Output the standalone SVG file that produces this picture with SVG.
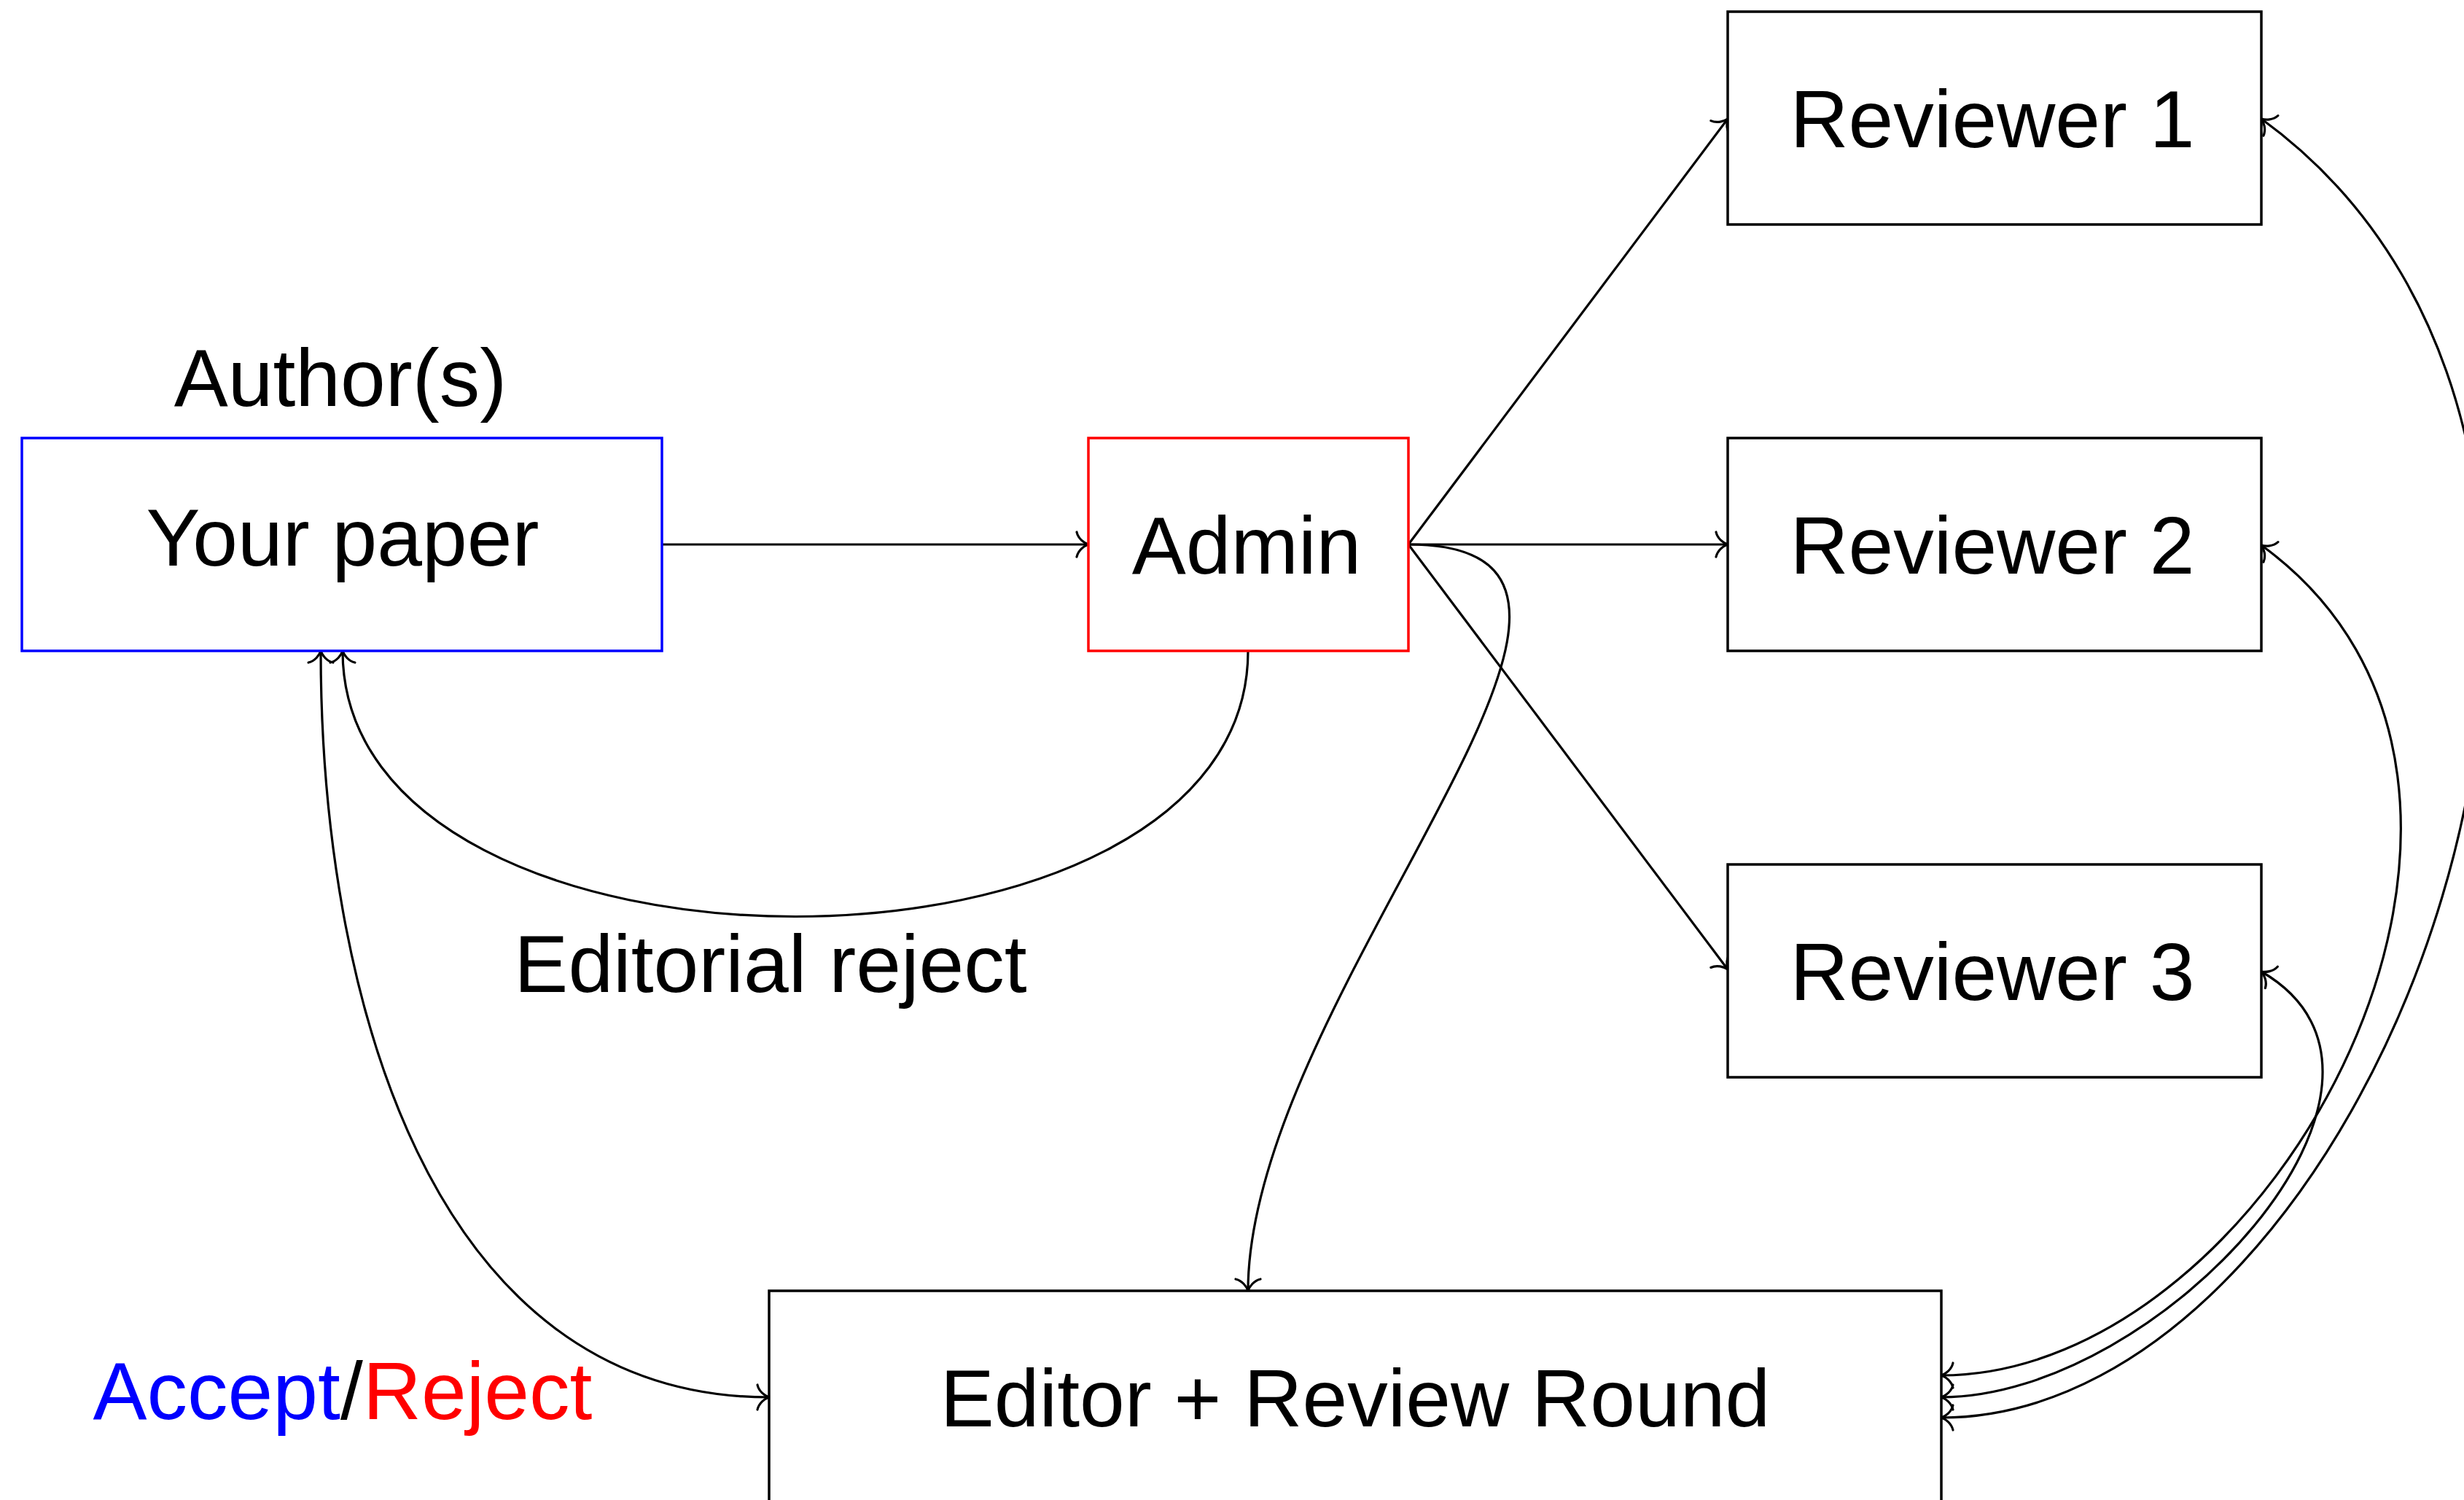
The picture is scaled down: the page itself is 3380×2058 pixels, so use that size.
<svg xmlns="http://www.w3.org/2000/svg" width="3380" height="2058" viewBox="0 0 3380 2058">
<style>
  .box { fill: #ffffff; stroke-width: 3.5; }
  .lbl { font-family: "Liberation Sans", Arial, sans-serif; font-size: 111px; fill: #000000; }
  .mid { text-anchor: middle; }
  .edge { fill: none; stroke: #000000; stroke-width: 3.2; }
  .arr { marker-end: url(#to); }
  .both { marker-start: url(#to); marker-end: url(#to); }
</style>
<defs>
  <marker id="to" markerUnits="userSpaceOnUse" viewBox="-20 -20 24 40" markerWidth="24" markerHeight="40" refX="0" refY="0" orient="auto-start-reverse" overflow="visible">
    <path d="M -16,-17 C -14,-8 -6,-2 0,0 C -6,2 -14,8 -16,17" fill="none" stroke="#000000" stroke-width="3.2" stroke-linecap="round"/>
  </marker>
</defs>
<rect width="3380" height="2058" fill="#ffffff"/>

<g id="connectors">
  <path class="edge arr" d="M 908,747 L 1493,747"/>
  <path class="edge arr" d="M 1932,747 L 2370,163"/>
  <path class="edge arr" d="M 1932,747 L 2370,747"/>
  <path class="edge arr" d="M 1932,747 L 2370,1330"/>
  <path class="edge arr" d="M 1932,747 C 2342,747 1712,1361 1712,1771"/>
  <path class="edge arr" d="M 1712,893 C 1712,1379 470,1379 470,893"/>
  <path class="edge both" d="M 440,893 C 440,1360 588,1917 1055,1917"/>
  <path class="edge both" d="M 3102,163 C 3749,633 3263,1945 2663,1945"/>
  <path class="edge both" d="M 3102,748 C 3555,1077 3120,1887 2663,1887"/>
  <path class="edge both" d="M 3102,1333 C 3362,1483 2963,1917 2663,1917"/>
</g>

<g id="author-label">
  <text class="lbl mid" x="467" y="557">Author(s)</text>
</g>
<g id="your-paper">
  <rect class="box" x="30" y="601" width="878" height="292" stroke="#0000ff"/>
  <text class="lbl mid" x="470" y="776">Your paper</text>
</g>
<g id="admin">
  <rect class="box" x="1493" y="601" width="439" height="292" stroke="#ff0000"/>
  <text class="lbl mid" x="1710" y="787">Admin</text>
</g>
<g id="reviewer1">
  <rect class="box" x="2370" y="16" width="732" height="292" stroke="#000000"/>
  <text class="lbl mid" x="2733" y="202">Reviewer 1</text>
</g>
<g id="reviewer2">
  <rect class="box" x="2370" y="601" width="732" height="292" stroke="#000000"/>
  <text class="lbl mid" x="2733" y="787">Reviewer 2</text>
</g>
<g id="reviewer3">
  <rect class="box" x="2370" y="1186" width="732" height="292" stroke="#000000"/>
  <text class="lbl mid" x="2733" y="1372">Reviewer 3</text>
</g>
<g id="editor">
  <rect class="box" x="1055" y="1771" width="1608" height="320" stroke="#000000"/>
  <text class="lbl mid" x="1859" y="1957">Editor + Review Round</text>
</g>
<g id="editorial-reject-label">
  <text class="lbl mid" x="1057" y="1361">Editorial reject</text>
</g>
<g id="accept-reject-label">
  <text class="lbl mid" x="470" y="1947"><tspan fill="#0000ff">Accept</tspan>/<tspan fill="#ff0000">Reject</tspan></text>
</g>
</svg>
